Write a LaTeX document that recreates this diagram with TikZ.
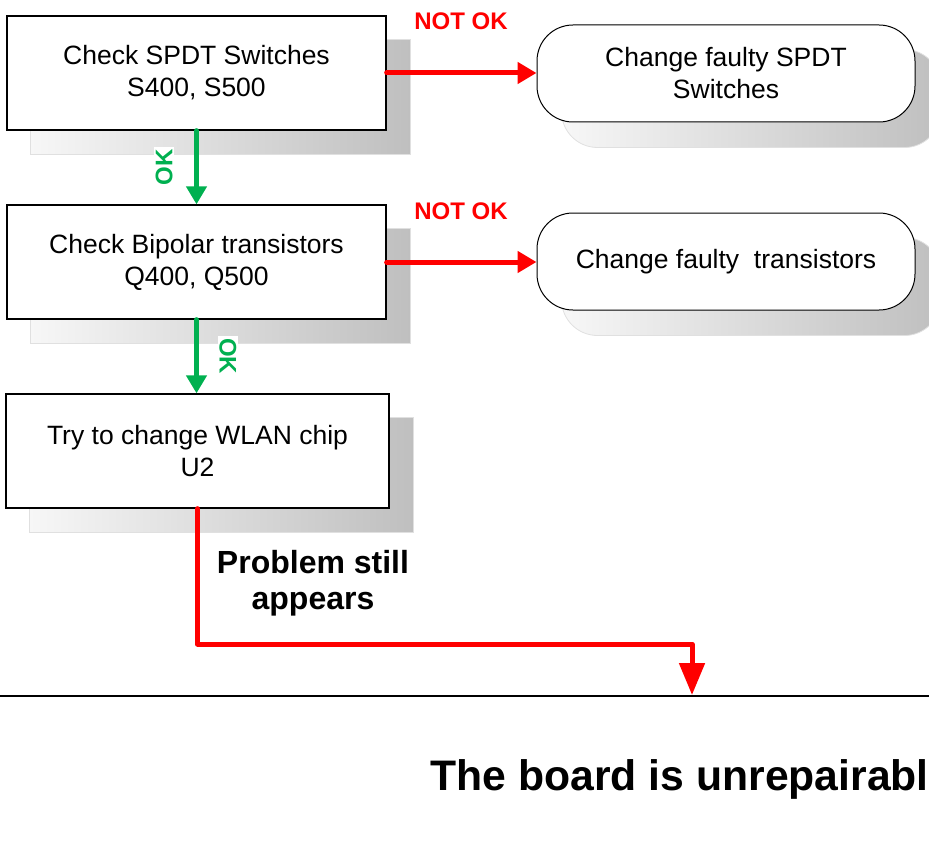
\documentclass[tikz,border=0pt]{standalone}
\usepackage{fontspec}
\setmainfont{Liberation Sans}
\usetikzlibrary{arrows.meta,backgrounds}
\definecolor{okgreen}{HTML}{00B050}
\definecolor{notred}{HTML}{FF0000}
\definecolor{shadowgray}{HTML}{BFBFBF}
\definecolor{shadowlight}{HTML}{F7F7F7}
\begin{document}
\begin{tikzpicture}[x=1pt,y=-1pt,
  procbox/.style={draw=black, line width=1.3pt, fill=white, minimum width=379pt, minimum height=114pt, align=center, font=\fontsize{26.5}{32}\selectfont, inner sep=0pt},
  fixbox/.style={draw=black, line width=1pt, fill=white, rounded corners=36pt, minimum width=378pt, minimum height=97pt, align=center, font=\fontsize{26.5}{32}\selectfont, inner sep=0pt},
  shadowbox/.style={left color=shadowlight, right color=shadowgray, draw=black!12, line width=0.8pt},
  okarrow/.style={draw=okgreen, line width=5pt, line cap=round, -{Triangle[width=20pt,length=18pt]}},
  nokarrow/.style={draw=notred, line width=5pt, line cap=round, -{Triangle[width=21pt,length=19pt]}},
  bigred/.style={draw=notred, line width=5pt, line cap=round, line join=round, -{Triangle[width=25pt,length=32pt]}},
  oklabel/.style={text=okgreen, fill=white, font=\bfseries\fontsize{24}{28}\selectfont, inner sep=2pt},
  noklabel/.style={text=notred, font=\bfseries\fontsize{24}{28}\selectfont, inner sep=0pt}
]
\useasboundingbox (0,0) rectangle (929,848);

% process boxes
\node[procbox] (b1) at (196.5,73) {Check SPDT Switches\\S400, S500};
\node[procbox] (b2) at (196.5,262) {Check Bipolar transistors\\Q400, Q500};
\node[procbox, minimum width=383pt] (b3) at (197.5,451) {Try to change WLAN chip\\U2};

% fix boxes
\node[fixbox] (r1) at (726,73.5) {Change faulty SPDT\\Switches};
\node[fixbox] (r2) at (726,261.5) {Change faulty\ \ transistors};

% shadows
\begin{scope}[on background layer]
  \path[shadowbox] ([shift={(24,24)}]b1.north west) rectangle ([shift={(24,24)}]b1.south east);
  \path[shadowbox] ([shift={(24,24)}]b2.north west) rectangle ([shift={(24,24)}]b2.south east);
  \path[shadowbox] ([shift={(24,24)}]b3.north west) rectangle ([shift={(24,24)}]b3.south east);
  \path[shadowbox, rounded corners=36pt] ([shift={(25,25)}]r1.north west) rectangle ([shift={(25,25)}]r1.south east);
  \path[shadowbox, rounded corners=36pt] ([shift={(25,25)}]r2.north west) rectangle ([shift={(25,25)}]r2.south east);
\end{scope}

% connectors
\draw[nokarrow] (b1.east) -- (r1.west |- b1.east);
\draw[nokarrow] (b2.east) -- (r2.west |- b2.east);
\draw[okarrow] (b1.south) -- (b2.north);
\draw[okarrow] (b2.south) -- (b2.south |- b3.north);

\coordinate (corner) at (692,644);
\coordinate (endpt) at (692,695);
\draw[bigred] (b3.south) |- (corner) -- (endpt);

% labels
\node[noklabel] (nok1) at (461,21) {NOT OK};
\node[noklabel] (nok2) at (461,211) {NOT OK};
\node[oklabel, rotate=90] (ok1) at (164,167) {OK};
\node[oklabel, rotate=-90] (ok2) at (228,356) {OK};

\node[font=\bfseries\fontsize{32}{36}\selectfont, align=center, inner sep=0pt] (prob) at (313,583) {Problem still\\appears};

% divider line
\coordinate (hl) at (0,696);
\coordinate (hr) at (929,696);
\draw[line width=1.5pt] (hl) -- (hr);

\node[anchor=base east, font=\bfseries\fontsize{42.7}{50}\selectfont, inner sep=0pt] (verdict) at (929,790) {The board is unrepairabl};
\end{tikzpicture}
\end{document}
